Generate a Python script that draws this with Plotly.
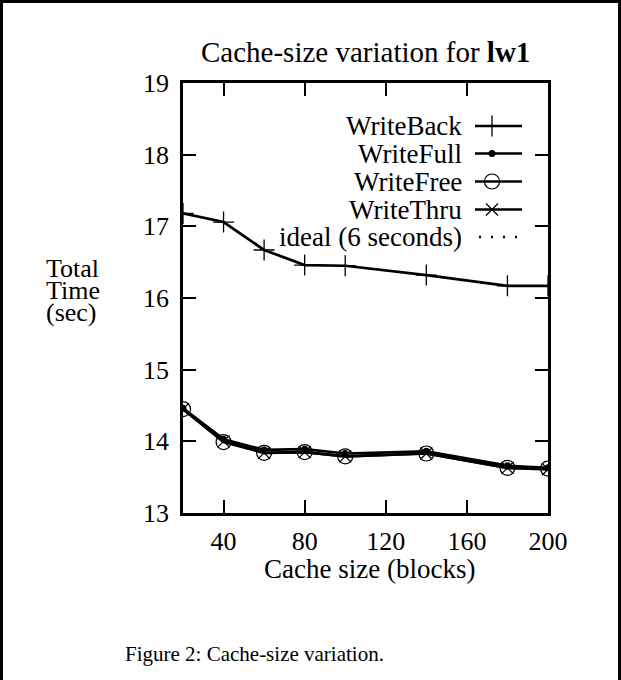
import plotly.graph_objects as go

# ---- data ----
cache_size = [20, 40, 60, 80, 100, 140, 180, 200]
write_back = [17.18, 17.06, 16.67, 16.46, 16.45, 16.32, 16.17, 16.17]
write_full = [14.46, 14.03, 13.88, 13.89, 13.83, 13.86, 13.66, 13.63]
write_free = [14.45, 13.99, 13.84, 13.85, 13.79, 13.83, 13.63, 13.62]
write_thru = [14.45, 14.00, 13.84, 13.85, 13.79, 13.83, 13.63, 13.61]
ideal_seconds = 6
x_ticks = [40, 80, 120, 160, 200]
y_ticks = [13, 14, 15, 16, 17, 18, 19]
series_names = ["WriteBack", "WriteFull", "WriteFree", "WriteThru", "ideal (6 seconds)"]

FONT = "Liberation Serif"
FS = 27
W, H = 621, 680
L, R, T, B = 183, 73, 83, 167
PW, PH = W - L - R, H - T - B


def px2x(px):
    return (px - L) / PW


def py2y(py):
    return (H - B - py) / PH


fig = go.Figure()

line_style = dict(color="black", width=2.7)
styles = [
    dict(symbol="cross-thin", size=15, line=dict(color="black", width=1.3), color="black"),
    dict(symbol="circle", size=7, color="black", line=dict(width=0)),
    dict(symbol="circle-open", size=15, color="black", line=dict(color="black", width=1.2)),
    dict(symbol="x-thin", size=12, color="black", line=dict(color="black", width=1.2)),
]
data = [write_back, write_full, write_free, write_thru]
ideal_dash = dict(color="black", width=2.7, dash="2px,10px")

for name, ys, mk in zip(series_names[:4], data, styles):
    fig.add_trace(go.Scatter(x=cache_size, y=ys, mode="lines+markers", name=name,
                             line=line_style, marker=mk, showlegend=False))

fig.add_trace(go.Scatter(x=cache_size, y=[ideal_seconds] * len(cache_size), mode="lines",
                         name=series_names[4], line=ideal_dash, showlegend=False))

# ---- manual legend (text right-aligned, sample on the right) ----
row_py = [126, 153.5, 181.5, 209.5, 237]
x_text = px2x(464)
x_s0, x_s1, x_m = px2x(475), px2x(522), px2x(492)
for i, name in enumerate(series_names):
    yy = py2y(row_py[i])
    fig.add_annotation(x=x_text, y=yy, xref="paper", yref="paper", text=name,
                       xanchor="right", yanchor="middle", showarrow=False,
                       font=dict(family=FONT, size=FS, color="black"))
    if i < 4:
        fig.add_trace(go.Scatter(x=[x_s0, x_s1], y=[yy, yy], xaxis="x2", yaxis="y2",
                                 mode="lines", line=line_style, showlegend=False,
                                 hoverinfo="skip"))
        fig.add_trace(go.Scatter(x=[x_m], y=[yy], xaxis="x2", yaxis="y2", mode="markers",
                                 marker=styles[i], showlegend=False, hoverinfo="skip"))
    else:
        fig.add_trace(go.Scatter(x=[px2x(479), x_s1], y=[yy, yy], xaxis="x2", yaxis="y2",
                                 mode="lines", line=ideal_dash,
                                 showlegend=False, hoverinfo="skip"))

# ---- texts ----
fig.add_annotation(x=0.5, y=py2y(52), xref="paper", yref="paper",
                   text="Cache-size variation for <b>lw1</b>", showarrow=False,
                   xanchor="center", yanchor="middle",
                   font=dict(family=FONT, size=29, color="black"))
for txt, py in zip(["Total", "Time", "(sec)"], [268, 290, 312]):
    fig.add_annotation(x=px2x(44), y=py2y(py), xref="paper", yref="paper", text=txt,
                       showarrow=False, xanchor="left", yanchor="middle",
                       font=dict(family=FONT, size=26, color="black"))
fig.add_annotation(x=px2x(369), y=py2y(569), xref="paper", yref="paper",
                   text="Cache size (blocks)", showarrow=False, xanchor="center",
                   yanchor="middle", font=dict(family=FONT, size=FS, color="black"))
fig.add_annotation(x=px2x(254), y=py2y(654), xref="paper", yref="paper",
                   text="Figure 2: Cache-size variation.", showarrow=False, xanchor="center",
                   yanchor="middle", font=dict(family=FONT, size=21, color="black"))

# ---- frame around the figure ----
bx0, bx1, by1, by0 = px2x(1.5), px2x(619.5), py2y(1.5), py2y(700)
fig.add_shape(type="path", xref="paper", yref="paper",
              path=f"M {bx0} {by0} L {bx0} {by1} L {bx1} {by1} L {bx1} {by0}",
              line=dict(color="black", width=3))

axis_common = dict(showgrid=False, zeroline=False, showline=True, mirror="ticks",
                   linecolor="black", linewidth=2.5, ticks="inside", ticklen=13,
                   tickwidth=2, tickcolor="black",
                   tickfont=dict(family=FONT, size=26, color="black"))
fig.update_layout(
    width=W, height=H, margin=dict(l=L, r=R, t=T, b=B),
    paper_bgcolor="white", plot_bgcolor="white", showlegend=False,
    xaxis=dict(range=[20, 200], tickvals=x_ticks, ticklabelstandoff=3, **axis_common),
    yaxis=dict(range=[13, 19], tickvals=y_ticks, ticklabelstandoff=6, **axis_common),
    xaxis2=dict(range=[0, 1], overlaying="x", visible=False),
    yaxis2=dict(range=[0, 1], overlaying="y", visible=False),
)

fig.write_html("out.html")
